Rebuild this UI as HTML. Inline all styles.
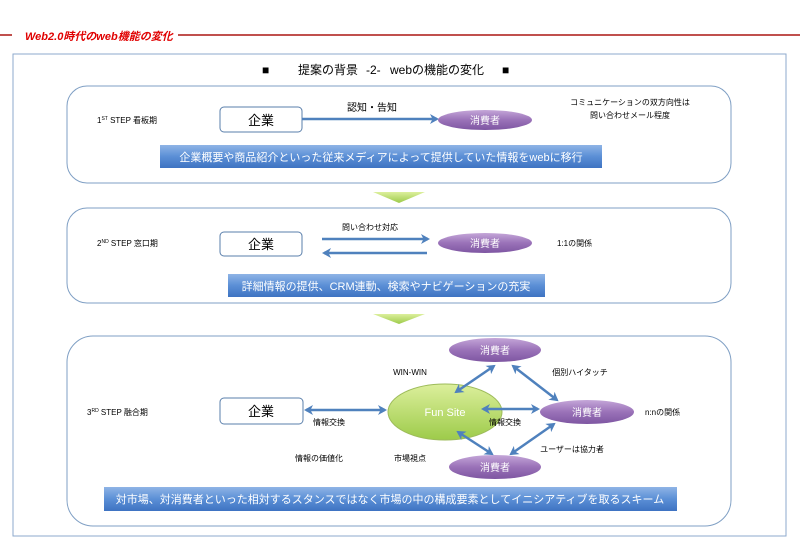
<!DOCTYPE html>
<html><head><meta charset="utf-8">
<style>
html,body{margin:0;padding:0;background:#fff;}
svg{display:block;}
text{font-family:"Liberation Sans","Noto Sans CJK JP",sans-serif;}
</style></head>
<body>
<svg width="800" height="553" viewBox="0 0 800 553" xmlns="http://www.w3.org/2000/svg">
<defs>
<linearGradient id="blue" x1="0" y1="0" x2="0" y2="1">
<stop offset="0" stop-color="#8fb4e6"/><stop offset="0.5" stop-color="#5b8fd6"/><stop offset="1" stop-color="#3e73c2"/>
</linearGradient>
<linearGradient id="purple" x1="0" y1="0" x2="0" y2="1">
<stop offset="0" stop-color="#c4a6d8"/><stop offset="0.5" stop-color="#9a72b8"/><stop offset="1" stop-color="#7e56a2"/>
</linearGradient>
<linearGradient id="green" x1="0" y1="0" x2="0" y2="1">
<stop offset="0" stop-color="#dcef9c"/><stop offset="1" stop-color="#9dcb4a"/>
</linearGradient>
<marker id="ah" markerWidth="10" markerHeight="10" refX="7" refY="5" orient="auto" markerUnits="userSpaceOnUse">
<path d="M0,0 L9,5 L0,10 L2.5,5 Z" fill="#4f81bd"/>
</marker>
<marker id="ahs" markerWidth="10" markerHeight="10" refX="2" refY="5" orient="auto" markerUnits="userSpaceOnUse">
<path d="M9,0 L0,5 L9,10 L6.5,5 Z" fill="#4f81bd"/>
</marker>
</defs>

<line x1="0" y1="35" x2="12" y2="35" stroke="#c0504d" stroke-width="2"/>
<line x1="178" y1="35" x2="800" y2="35" stroke="#c0504d" stroke-width="2"/>
<text x="25" y="40" font-size="11" font-weight="bold" font-style="italic" fill="#e00000">Web2.0時代のweb機能の変化</text>

<rect x="13" y="54" width="773" height="482" fill="#fff" stroke="#8eaacc" stroke-width="1"/>
<text x="262" y="74" font-size="12">■</text>
<text x="298" y="74" font-size="12">提案の背景</text>
<text x="366" y="74" font-size="12">-2-</text>
<text x="390" y="74" font-size="12">webの機能の変化</text>
<text x="502" y="74" font-size="12">■</text>

<rect x="67" y="86" width="664" height="97" rx="20" fill="#fff" stroke="#7f9fc4"/>
<text x="97" y="123" font-size="8">1<tspan font-size="5" dy="-3">ST</tspan><tspan dy="3"> STEP 看板期</tspan></text>
<rect x="220" y="107" width="82" height="25" rx="4" fill="#fff" stroke="#5a7fab"/>
<text x="261" y="125" font-size="13" text-anchor="middle">企業</text>
<line x1="302" y1="119" x2="437" y2="119" stroke="#4f81bd" stroke-width="2.5" marker-end="url(#ah)"/>
<text x="372" y="111" font-size="10" text-anchor="middle">認知・告知</text>
<ellipse cx="485" cy="120" rx="47" ry="10" fill="url(#purple)"/>
<text x="485" y="124" font-size="10" text-anchor="middle" fill="#fff">消費者</text>
<text x="630" y="105" font-size="8" text-anchor="middle">コミュニケーションの双方向性は</text>
<text x="630" y="118" font-size="8" text-anchor="middle">問い合わせメール程度</text>
<rect x="160" y="145" width="442" height="23" fill="url(#blue)"/>
<text x="381" y="161" font-size="11" text-anchor="middle" fill="#fff">企業概要や商品紹介といった従来メディアによって提供していた情報をwebに移行</text>

<path d="M373,192 L425,192 L399,203 Z" fill="url(#green)"/>

<rect x="67" y="208" width="664" height="95" rx="20" fill="#fff" stroke="#7f9fc4"/>
<text x="97" y="246" font-size="8">2<tspan font-size="5" dy="-3">ND</tspan><tspan dy="3"> STEP 窓口期</tspan></text>
<rect x="220" y="232" width="82" height="24" rx="4" fill="#fff" stroke="#5a7fab"/>
<text x="261" y="249" font-size="13" text-anchor="middle">企業</text>
<line x1="322" y1="239" x2="428" y2="239" stroke="#4f81bd" stroke-width="2.5" marker-end="url(#ah)"/>
<line x1="427" y1="253" x2="324" y2="253" stroke="#4f81bd" stroke-width="2.5" marker-end="url(#ah)"/>
<text x="370" y="230" font-size="8" text-anchor="middle">問い合わせ対応</text>
<ellipse cx="485" cy="243" rx="47" ry="10" fill="url(#purple)"/>
<text x="485" y="247" font-size="10" text-anchor="middle" fill="#fff">消費者</text>
<text x="557" y="246" font-size="8">1:1の関係</text>
<rect x="228" y="274" width="317" height="23" fill="url(#blue)"/>
<text x="386" y="290" font-size="11" text-anchor="middle" fill="#fff">詳細情報の提供、CRM連動、検索やナビゲーションの充実</text>

<path d="M373,314 L425,314 L399,324 Z" fill="url(#green)"/>

<rect x="67" y="336" width="664" height="190" rx="26" fill="#fff" stroke="#7f9fc4"/>
<text x="87" y="415" font-size="8">3<tspan font-size="5" dy="-3">RD</tspan><tspan dy="3"> STEP 融合期</tspan></text>
<rect x="220" y="398" width="83" height="26" rx="4" fill="#fff" stroke="#5a7fab"/>
<text x="261" y="416" font-size="13" text-anchor="middle">企業</text>

<ellipse cx="445" cy="412" rx="57" ry="28" fill="url(#green)" stroke="#9dbb5a"/>
<text x="445" y="416" font-size="11" text-anchor="middle" fill="#fff">Fun Site</text>

<ellipse cx="495" cy="350" rx="46" ry="12" fill="url(#purple)"/>
<text x="495" y="354" font-size="10" text-anchor="middle" fill="#fff">消費者</text>
<ellipse cx="587" cy="412" rx="47" ry="12" fill="url(#purple)"/>
<text x="587" y="416" font-size="10" text-anchor="middle" fill="#fff">消費者</text>
<ellipse cx="495" cy="467" rx="46" ry="12" fill="url(#purple)"/>
<text x="495" y="471" font-size="10" text-anchor="middle" fill="#fff">消費者</text>

<g stroke="#4f81bd" stroke-width="2.5" marker-end="url(#ah)" marker-start="url(#ahs)">
<line x1="306" y1="410" x2="385" y2="410"/>
<line x1="483" y1="409" x2="538" y2="409"/>
<line x1="456" y1="392" x2="494" y2="366"/>
<line x1="513" y1="366" x2="557" y2="400"/>
<line x1="458" y1="432" x2="492" y2="454"/>
<line x1="511" y1="454" x2="554" y2="424"/>
</g>

<text x="329" y="425" font-size="8" text-anchor="middle">情報交換</text>
<text x="505" y="425" font-size="8" text-anchor="middle">情報交換</text>
<text x="410" y="375" font-size="8" text-anchor="middle">WIN-WIN</text>
<text x="580" y="375" font-size="8" text-anchor="middle">個別ハイタッチ</text>
<text x="645" y="415" font-size="8">n:nの関係</text>
<text x="572" y="452" font-size="8" text-anchor="middle">ユーザーは協力者</text>
<text x="319" y="461" font-size="8" text-anchor="middle">情報の価値化</text>
<text x="410" y="461" font-size="8" text-anchor="middle">市場視点</text>

<rect x="104" y="487" width="573" height="24" fill="url(#blue)"/>
<text x="390" y="503" font-size="11" text-anchor="middle" fill="#fff">対市場、対消費者といった相対するスタンスではなく市場の中の構成要素としてイニシアティブを取るスキーム</text>
</svg>
</body></html>
